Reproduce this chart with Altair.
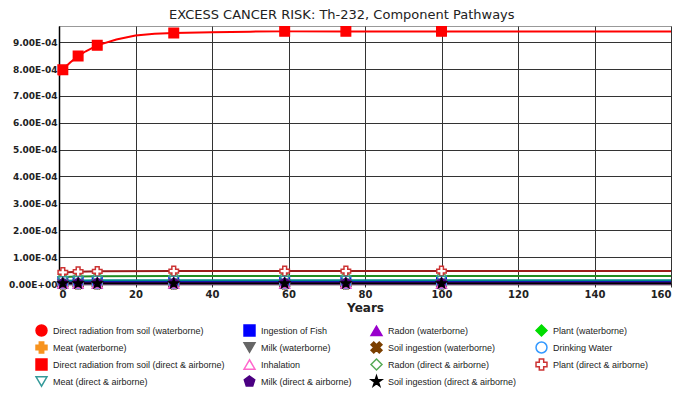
import altair as alt
import pandas as pd

# ---------------- data ----------------
series = [
    "Direct radiation from soil (waterborne)", "Ingestion of Fish", "Radon (waterborne)", "Plant (waterborne)",
    "Meat (waterborne)", "Milk (waterborne)", "Soil ingestion (waterborne)", "Drinking Water",
    "Direct radiation from soil (direct & airborne)", "Inhalation", "Radon (direct & airborne)", "Plant (direct & airborne)",
    "Meat (direct & airborne)", "Milk (direct & airborne)", "Soil ingestion (direct & airborne)",
]

STAR = "M0,-1L0.2245,-0.309L0.951,-0.309L0.363,0.118L0.588,0.809L0,0.382L-0.588,0.809L-0.363,0.118L-0.951,-0.309L-0.2245,-0.309Z"
PENT = "M0,-1L0.951,-0.309L0.588,0.809L-0.588,0.809L-0.951,-0.309Z"
XSHAPE = "M-1,-0.5L-0.5,-1L0,-0.5L0.5,-1L1,-0.5L0.5,0L1,0.5L0.5,1L0,0.5L-0.5,1L-1,0.5L-0.5,0Z"

shapes = ["circle", "square", "triangle-up", "diamond",
          "cross", "triangle-down", XSHAPE, "circle",
          "square", "triangle-up", "diamond", "cross",
          "triangle-down", PENT, STAR]
fills = ["#FF0000", "#0000FF", "#9900CC", "#00DD00",
         "#F7931E", "#666666", "#7B3F00", "white",
         "#FF0000", "white", "white", "white",
         "white", "#4B0082", "#000000"]
strokes = ["#FF0000", "#0000FF", "#9900CC", "#00DD00",
           "#F7931E", "#666666", "#7B3F00", "#3399FF",
           "#FF0000", "#FF66CC", "#55AA55", "#CC3333",
           "#339999", "#4B0082", "#000000"]
line_colors = ["#FF0000", "#0000CC", "#9900CC", "#00AA00",
               "#F7931E", "#666666", "#7B3F00", "#3399FF",
               "#FF0000", "#FF66CC", "#228B22", "#9B1B1B",
               "#008B8B", "#4B0082", "#000000"]

marker_years = [1, 5, 10, 30, 59, 75, 100]

years_main = [0, 1, 2, 3, 5, 7, 10, 15, 20, 25, 30, 40, 50, 59, 75, 100, 130, 160]
risk_main = [7.76e-4, 7.97e-4, 8.12e-4, 8.25e-4, 8.48e-4, 8.66e-4, 8.88e-4, 9.10e-4, 9.25e-4,
             9.31e-4, 9.34e-4, 9.37e-4, 9.39e-4, 9.40e-4, 9.40e-4, 9.40e-4, 9.40e-4, 9.40e-4]

years_low = [0, 1, 5, 10, 30, 59, 75, 100, 160]
risk_low = {
    "Direct radiation from soil (waterborne)": [0, 0, 0, 0, 0, 0, 0, 0, 0],
    "Ingestion of Fish": [0.8e-5, 0.8e-5, 0.9e-5, 0.9e-5, 0.9e-5, 0.9e-5, 0.9e-5, 0.9e-5, 0.9e-5],
    "Radon (waterborne)": [0, 0, 0, 0, 0, 0, 0, 0, 0],
    "Plant (waterborne)": [0, 0, 0, 0, 0, 0, 0, 0, 0],
    "Meat (waterborne)": [0, 0, 0, 0, 0, 0, 0, 0, 0],
    "Milk (waterborne)": [0, 0, 0, 0, 0, 0, 0, 0, 0],
    "Soil ingestion (waterborne)": [0, 0, 0, 0, 0, 0, 0, 0, 0],
    "Drinking Water": [0, 0, 0, 0, 0, 0, 0, 0, 0],
    "Inhalation": [0.1e-5, 0.1e-5, 0.1e-5, 0.1e-5, 0.1e-5, 0.1e-5, 0.1e-5, 0.1e-5, 0.1e-5],
    "Radon (direct & airborne)": [2.5e-5, 2.6e-5, 2.8e-5, 2.9e-5, 3.0e-5, 3.0e-5, 3.0e-5, 3.0e-5, 3.0e-5],
    "Plant (direct & airborne)": [4.2e-5, 4.3e-5, 4.6e-5, 4.7e-5, 4.8e-5, 4.8e-5, 4.8e-5, 4.8e-5, 4.8e-5],
    "Meat (direct & airborne)": [1.2e-5, 1.2e-5, 1.3e-5, 1.4e-5, 1.4e-5, 1.4e-5, 1.4e-5, 1.4e-5, 1.4e-5],
    "Milk (direct & airborne)": [0.4e-5, 0.4e-5, 0.5e-5, 0.5e-5, 0.5e-5, 0.5e-5, 0.5e-5, 0.5e-5, 0.5e-5],
    "Soil ingestion (direct & airborne)": [0.2e-5, 0.2e-5, 0.2e-5, 0.2e-5, 0.2e-5, 0.2e-5, 0.2e-5, 0.2e-5, 0.2e-5],
}

# ---------------- table ----------------
rows = []
for i, s in enumerate(series):
    if s == "Direct radiation from soil (direct & airborne)":
        ys, vs = years_main, risk_main
    else:
        ys, vs = years_low, risk_low[s]
    for yr, v in zip(ys, vs):
        rows.append({"series": s, "line_color": line_colors[i], "year": yr, "risk": v,
                     "marker": yr in marker_years})
df = pd.DataFrame(rows)
point_df = df[df["marker"]]

FONT = "DejaVu Sans"

x = alt.X("year:Q", title="Years",
          scale=alt.Scale(domain=[0, 160], nice=False, zero=True),
          axis=alt.Axis(values=list(range(0, 161, 20)), labelFontWeight="bold", labelFontSize=10,
                        titleFontWeight="bold", titleFontSize=12, labelFont=FONT, titleFont=FONT,
                        labelColor="#222", titleColor="#222", titlePadding=3,
                        tickSize=3, tickColor="#333", gridColor="#333"))
y = alt.Y("risk:Q", title=None,
          scale=alt.Scale(domain=[0, 9.6e-4], nice=False),
          axis=alt.Axis(values=[i * 1e-4 for i in range(10)], labelFontWeight="bold", labelFontSize=9,
                        labelFont=FONT, labelColor="#222", ticks=False, labelPadding=2,
                        gridColor="#333",
                        labelExpr="replace(replace(format(datum.value,'.2e'),'e-','E-0'),'e+','E+0')"))

# line colours come straight from the line_colors list (no scale, so no legend to merge with)
lines = alt.Chart(df).mark_line(strokeWidth=2).encode(
    x=x, y=y,
    color=alt.Color("line_color:N", scale=None),
    detail="series:N",
    order=alt.Order("year:Q"),
)

leg = alt.Legend(title=None, orient="none", direction="horizontal", legendX=-24, legendY=298,
                 columns=4, symbolSize=120, symbolStrokeWidth=1.5, labelFont="Liberation Sans",
                 labelFontSize=9, labelColor="#222", symbolOpacity=1, labelLimit=300,
                 columnPadding=16, rowPadding=0, labelOffset=5)

points = alt.Chart(point_df).mark_point(filled=True, size=90, opacity=1, strokeWidth=1.5).encode(
    x=x, y=y,
    shape=alt.Shape("series:N", scale=alt.Scale(domain=series, range=shapes), legend=leg),
    fill=alt.Fill("series:N", scale=alt.Scale(domain=series, range=fills), legend=leg),
    stroke=alt.Stroke("series:N", scale=alt.Scale(domain=series, range=strokes), legend=leg),
)

chart = alt.layer(lines, points).properties(
    width=612, height=258,
    background="white",
    title=alt.TitleParams("EXCESS CANCER RISK: Th-232, Component Pathways", font="DejaVu Sans",
                          fontSize=13, fontWeight="normal", color="#222", anchor="middle",
                          frame="bounds", offset=2),
    padding={"left": 0, "top": 0, "right": 0, "bottom": 0},
).configure_view(stroke="#999", strokeWidth=1).configure_axis(
    gridColor="#333", gridOpacity=1, gridWidth=1, domainColor="#000", domainWidth=1.5
)

chart.save("out.html", embed_options={"renderer": "svg", "actions": False})
